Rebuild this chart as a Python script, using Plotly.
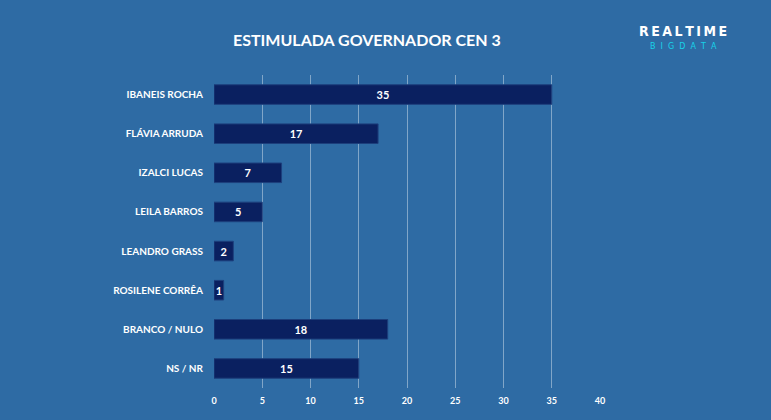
import plotly.graph_objects as go

categories = ["IBANEIS ROCHA", "FLÁVIA ARRUDA", "IZALCI LUCAS", "LEILA BARROS",
              "LEANDRO GRASS", "ROSILENE CORRÊA", "BRANCO / NULO", "NS / NR"]
values = [35, 17, 7, 5, 2, 1, 18, 15]
x_ticks = [0, 5, 10, 15, 20, 25, 30, 35, 40]
title_text = "ESTIMULADA GOVERNADOR CEN 3"

BG = "#2E6BA4"
BAR = "#0A2060"
FONT = "Lato"

L, R, T, B = 214, 171, 75, 32
W, H = 771, 420


def px_x(x):
    return (x - L) / (W - L - R)


def px_y(y):
    return (H - y - B) / (H - T - B)


fig = go.Figure(go.Bar(
    x=values, y=categories, orientation="h",
    marker=dict(color=BAR, line=dict(color="#1D3F7C", width=1)),
    width=0.5,
    text=[str(v) for v in values],
    textposition="inside", insidetextanchor="middle",
    textfont=dict(family=FONT, size=11, color="white", weight="bold"),
    constraintext="none",
))

sp = "\u2009"
fig.update_layout(
    width=W, height=H,
    margin=dict(l=L, r=R, t=T, b=B),
    paper_bgcolor=BG, plot_bgcolor=BG,
    showlegend=False,
    xaxis=dict(range=[0, 40], tickvals=x_ticks, showgrid=True,
               gridcolor="rgba(255,255,255,0.4)", gridwidth=1,
               zeroline=False, showline=False,
               tickfont=dict(family=FONT, size=9, color="white", weight="bold"),
               ticks="", ticklabelstandoff=6, fixedrange=True),
    yaxis=dict(autorange="reversed", showgrid=False, zeroline=False,
               tickfont=dict(family=FONT, size=10, color="white", weight="bold"),
               ticks="", ticklabelstandoff=10, fixedrange=True),
    annotations=[
        dict(text=title_text, x=px_x(367), y=px_y(39), xref="paper", yref="paper",
             showarrow=False, font=dict(family=FONT, size=16, color="white", weight="bold"),
             xanchor="center", yanchor="middle"),
        dict(text=sp.join("REALTIME"), x=px_x(683), y=px_y(31), xref="paper", yref="paper",
             showarrow=False,
             font=dict(family="DejaVu Sans Condensed", size=14, color="white", weight="bold"),
             xanchor="center", yanchor="middle"),
        dict(text="B  I  G  D  A  T  A", x=px_x(683), y=px_y(46), xref="paper", yref="paper",
             showarrow=False,
             font=dict(family="DejaVu Sans", size=8, color="#18D2E8"),
             xanchor="center", yanchor="middle"),
    ],
)

fig.write_html("out.html", config={"displayModeBar": False},
               post_script="document.body.style.margin='0';")
